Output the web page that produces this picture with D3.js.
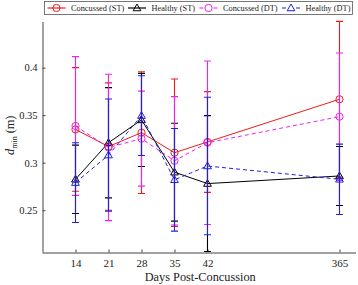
<!DOCTYPE html>
<html><head><meta charset="utf-8">
<script src="https://cdn.jsdelivr.net/npm/d3@7"></script>
<style>body{margin:0;background:#fff}svg{display:block}</style>
</head><body><svg id="c" width="358" height="285"></svg>
<script>
const days = [14, 21, 28, 35, 42, 365];
const dayLabels = ["14", "21", "28", "35", "42", "365"];
const yTicks = [0.25, 0.3, 0.35, 0.4];
const seriesNames = ["Concussed (ST)", "Healthy (ST)", "Concussed (DT)", "Healthy (DT)"];
const concST_mean = [0.335, 0.317, 0.3316, 0.3105, 0.3218, 0.3667];
const concST_err  = [0.065, 0.067, 0.064, 0.0775, 0.053, 0.082];
const healthyST_mean = [0.2825, 0.321, 0.345, 0.290, 0.278, 0.286];
const healthyST_err  = [0.036, 0.058, 0.049, 0.0515, 0.0715, 0.031];
const concDT_mean = [0.3386, 0.316, 0.3253, 0.302, 0.321, 0.3484];
const concDT_err  = [0.073, 0.077, 0.05, 0.0675, 0.086, 0.067];
const healthyDT_mean = [0.279, 0.308, 0.3495, 0.282, 0.2965, 0.2825];
const healthyDT_err  = [0.042, 0.059, 0.042, 0.054, 0.0723, 0.037];

const styles = [
  {color:"#ee1c1c", dash:null, marker:"circle"},
  {color:"#000000", dash:null, marker:"triangle"},
  {color:"#ee22ee", dash:"4,3", marker:"circle"},
  {color:"#2020dd", dash:"4,3", marker:"triangle"}
];
const series = [
  {name:seriesNames[0], mean:concST_mean, err:concST_err},
  {name:seriesNames[1], mean:healthyST_mean, err:healthyST_err},
  {name:seriesNames[2], mean:concDT_mean, err:concDT_err},
  {name:seriesNames[3], mean:healthyDT_mean, err:healthyDT_err}
];
const FONT = "Liberation Serif";

const L = 42.5, R = 356, T = 22, B = 252.5;
// broken time axis: 42 -> 365 compressed
const x = d3.scaleLinear().domain([7, 42, 365, 368.5]).range([L, L + 35*4.714, L + 63*4.714, R]);
const y = d3.scaleLinear().domain([0.2055, 0.448]).range([B, T]);

const svg = d3.select("#c");
svg.append("defs").append("clipPath").attr("id","clip")
  .append("rect").attr("x", L).attr("y", T - 2).attr("width", R - L).attr("height", B - T + 2);

const xAxis = d3.axisBottom(x).tickValues(days).tickFormat((d,i)=>dayLabels[i]).tickSizeInner(-3).tickSizeOuter(0).tickPadding(7);
const gx = svg.append("g").attr("transform", `translate(0,${B})`).call(xAxis).attr("font-family", FONT).attr("font-size", 11);
gx.select(".domain").attr("stroke", "#444").attr("d", `M${L},0.5H${R}`);
gx.selectAll(".tick line").attr("stroke", "#444");
gx.selectAll("text").attr("fill", "#222");

const yAxis = d3.axisLeft(y).tickValues(yTicks).tickFormat(d3.format("")).tickSizeInner(-3).tickSizeOuter(0).tickPadding(5);
const gy = svg.append("g").attr("transform", `translate(${L},0)`).call(yAxis).attr("font-family", FONT).attr("font-size", 10.5);
gy.select(".domain").attr("stroke", "#444").attr("d", `M0.5,${T}V${B}`);
gy.selectAll(".tick line").attr("stroke", "#444");
gy.selectAll("text").attr("fill", "#222");

svg.append("text").attr("x", (L + R)/2 + 1).attr("y", 281).attr("text-anchor", "middle")
  .attr("font-family", FONT).attr("font-size", 12.3).attr("fill", "#222").text("Days Post-Concussion");
const yl = svg.append("text").attr("transform", `translate(14,${(T + B)/2 - 2}) rotate(-90)`)
  .attr("text-anchor", "middle").attr("font-family", FONT).attr("font-size", 12.3).attr("fill", "#222");
yl.append("tspan").attr("font-style", "italic").text("d");
yl.append("tspan").attr("font-size", 8).attr("dy", 3).text("min");
yl.append("tspan").attr("dy", -3).text(" (m)");

const plot = svg.append("g").attr("clip-path", "url(#clip)");
const tri = d3.symbol().type(d3.symbolTriangle).size(26);
function drawMarker(g, type, cx, cy, color) {
  if (type === "circle") {
    g.append("circle").attr("cx", cx).attr("cy", cy).attr("r", 3.6)
      .attr("fill", "none").attr("stroke", color).attr("stroke-width", 1);
  } else {
    g.append("path").attr("d", tri()).attr("transform", `translate(${cx},${cy + 0.5})`)
      .attr("fill", "none").attr("stroke", color).attr("stroke-width", 1);
  }
}

series.forEach((s, si) => {
  const st = styles[si];
  const g = plot.append("g");
  const line = d3.line().x((d,i)=>x(days[i])).y(d=>y(d));
  g.append("path").attr("d", line(s.mean)).attr("fill", "none").attr("stroke", st.color)
    .attr("stroke-width", 1).attr("stroke-dasharray", st.dash);
  s.mean.forEach((m, i) => {
    const cx = x(days[i]), y0 = y(m - s.err[i]), y1 = y(m + s.err[i]);
    g.append("line").attr("x1", cx).attr("x2", cx).attr("y1", y0).attr("y2", y1)
      .attr("stroke", st.color).attr("stroke-width", 1.1);
    [y0, y1].forEach(yy => g.append("line").attr("x1", cx - 3.5).attr("x2", cx + 3.5)
      .attr("y1", yy).attr("y2", yy).attr("stroke", st.color).attr("stroke-width", 1.1));
    drawMarker(g, st.marker, cx, y(m), st.color);
  });
});

// legend
const lg = svg.append("g");
lg.append("rect").attr("x", 44.5).attr("y", 1.5).attr("width", 308).attr("height", 13)
  .attr("fill", "#fff").attr("stroke", "#555").attr("stroke-width", 0.8);
const lx = [47.5, 128, 199.5, 282];
series.forEach((s, si) => {
  const st = styles[si], x0 = lx[si], cy = 8;
  lg.append("line").attr("x1", x0).attr("x2", x0 + 18).attr("y1", cy).attr("y2", cy)
    .attr("stroke", st.color).attr("stroke-width", 1.2).attr("stroke-dasharray", st.dash ? "4,10" : null);
  drawMarker(lg, st.marker, x0 + 9, cy, st.color);
  lg.append("text").attr("x", x0 + 23.5).attr("y", cy + 3).attr("font-family", FONT)
    .attr("font-size", 8.3).attr("fill", "#222").text(s.name);
});
</script></body></html>
